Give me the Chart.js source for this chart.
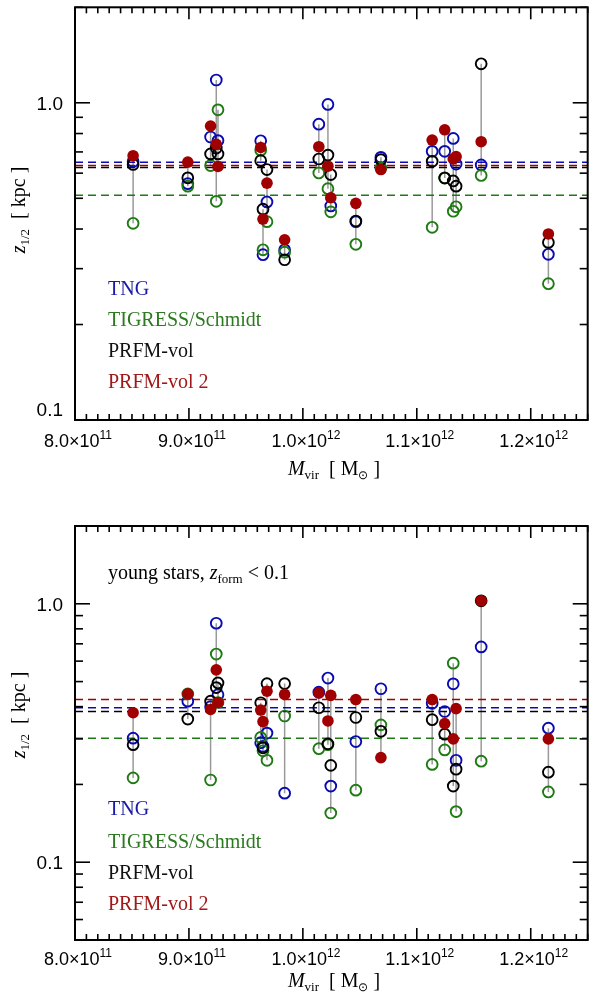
<!DOCTYPE html>
<html>
<head>
<meta charset="utf-8">
<script src="https://cdn.jsdelivr.net/npm/chart.js@4.4.1/dist/chart.umd.min.js"></script>
<style>
  body { margin: 0; background: #fff; }
  canvas { position: absolute; left: 0; }
</style>
</head>
<body>
<canvas id="allChart" width="595" height="490" style="top:0px"></canvas>
<canvas id="youngChart" width="595" height="513" style="top:490px"></canvas>
<script>
// series, in legend order
const seriesNames = ['TNG', 'TIGRESS/Schmidt', 'PRFM-vol', 'PRFM-vol 2'];
const markerColors = ['#0a0ab2', '#1e7a12', '#000000', '#a00000'];
const textColors = ['#1a1aa8', '#2a7a1e', '#111111', '#a01818'];

// halo virial masses [Msun]
const haloMass = [8.51e11, 8.99e11, 9.19e11, 9.24e11, 9.255e11, 9.63e11, 9.65e11, 9.685e11, 9.84e11, 1.014e12,
  1.022e12, 1.0245e12, 1.0465e12, 1.0685e12, 1.1135e12, 1.1245e12, 1.132e12, 1.1345e12, 1.1565e12, 1.2155e12];

// z_1/2 [kpc], all stars (top panel)
const tngAll = [0.653, 0.556, 0.78, 1.18, 0.76, 0.759, 0.332, 0.487, 0.344, 0.856,
  0.988, 0.473, 0.422, 0.673, 0.703, 0.703, 0.772, 0.641, 0.637, 0.333];
const tigressAll = [0.417, 0.546, 0.634, 0.489, 0.95, 0.709, 0.344, 0.422, 0.338, 0.601,
  0.536, 0.453, 0.358, 0.623, 0.405, 0.58, 0.455, 0.47, 0.59, 0.269];
const prfmAll = [0.639, 0.58, 0.69, 0.72, 0.69, 0.657, 0.462, 0.616, 0.32, 0.665,
  0.684, 0.594, 0.424, 0.662, 0.654, 0.579, 0.567, 0.546, 1.327, 0.363];
const prfm2All = [0.681, 0.65, 0.845, 0.74, 0.63, 0.723, 0.43, 0.558, 0.37, 0.727,
  0.631, 0.502, 0.482, 0.616, 0.763, 0.822, 0.665, 0.677, 0.754, 0.386];
const medianAll = [0.650, 0.511, 0.625, 0.634];

// z_1/2 [kpc], young stars z_form < 0.1 (bottom panel)
const tngYoung = [0.302, 0.42, 0.40, 0.841, 0.445, 0.29, 0.281, 0.316, 0.185, 0.455,
  0.516, 0.197, 0.293, 0.469, 0.412, 0.383, 0.49, 0.248, 0.681, 0.33];
const tigressYoung = [0.212, 0.448, 0.208, 0.639, 0.415, 0.304, 0.27, 0.248, 0.368, 0.275,
  0.285, 0.155, 0.19, 0.34, 0.239, 0.272, 0.589, 0.157, 0.246, 0.187];
const prfmYoung = [0.285, 0.358, 0.42, 0.474, 0.494, 0.414, 0.277, 0.491, 0.491, 0.396,
  0.287, 0.237, 0.363, 0.321, 0.356, 0.313, 0.197, 0.229, 1.027, 0.223];
const prfm2Young = [0.379, 0.448, 0.39, 0.555, 0.415, 0.388, 0.35, 0.459, 0.446, 0.452,
  0.352, 0.442, 0.426, 0.254, 0.426, 0.344, 0.30, 0.393, 1.027, 0.30];
const medianYoung = [0.396, 0.302, 0.383, 0.426];

// axis ticks
const xTickValues = [8e11, 9e11, 1e12, 1.1e12, 1.2e12];
const xTickMantissa = ['8.0', '9.0', '1.0', '1.1', '1.2'];
const xTickExponent = ['11', '11', '12', '12', '12'];
const yTickValues = [0.1, 1.0];
const yTickLabels = ['0.1', '1.0'];

const X_MIN = 8e11, X_MAX = 1.25e12;
const SERIF = '"Liberation Serif", "Times New Roman", serif';
const SANS = '"Liberation Sans", Arial, sans-serif';

function drawRich(ctx, parts, x, y, align) {
  let w = 0;
  parts.forEach(p => { ctx.font = p.font; w += ctx.measureText(p.text).width; });
  let cx = align === 'center' ? x - w / 2 : (align === 'right' ? x - w : x);
  ctx.textAlign = 'left';
  ctx.textBaseline = 'alphabetic';
  parts.forEach(p => {
    ctx.font = p.font;
    ctx.fillStyle = p.color || '#000';
    ctx.fillText(p.text, cx, y + (p.dy || 0));
    cx += ctx.measureText(p.text).width;
  });
}

// IDL-like frame: box, inward ticks on all sides, labels, titles, legend
const framePlugin = {
  id: 'idlFrame',
  afterDraw(chart, args, opts) {
    const { ctx, chartArea: a, scales: { x, y } } = chart;
    ctx.save();
    ctx.strokeStyle = '#000';
    ctx.lineWidth = 1.6;
    const seg = (x0, y0, x1, y1) => { ctx.beginPath(); ctx.moveTo(x0, y0); ctx.lineTo(x1, y1); ctx.stroke(); };

    // x ticks every 1e10
    for (let i = 80; i <= 125; i++) {
      const px = x.getPixelForValue(i * 1e10);
      const len = i % 10 === 0 ? 12 : 6;
      seg(px, a.bottom, px, a.bottom - len);
      seg(px, a.top, px, a.top + len);
    }
    // y ticks (log)
    for (let k = -2; k <= 0; k++) {
      for (let m = 1; m <= 9; m++) {
        const v = m * Math.pow(10, k);
        if (v < y.min * 0.999 || v > y.max * 1.001) continue;
        const py = y.getPixelForValue(v);
        const len = m === 1 ? 15 : 8;
        seg(a.left, py, a.left + len, py);
        seg(a.right, py, a.right - len, py);
      }
    }
    ctx.lineWidth = 2;
    ctx.strokeRect(a.left, a.top, a.right - a.left, a.bottom - a.top);

    // x tick labels
    xTickValues.forEach((v, i) => {
      drawRich(ctx, [
        { text: xTickMantissa[i] + '\u00d710', font: '18px ' + SANS },
        { text: xTickExponent[i], font: '12px ' + SANS, dy: -8 }
      ], x.getPixelForValue(v) + 3, a.bottom + opts.xLabelGap, 'center');
    });
    // y tick labels
    yTickValues.forEach((v, i) => {
      const shift = (opts.yLabelShift && opts.yLabelShift[i]) || 0;
      drawRich(ctx, [{ text: yTickLabels[i], font: '19px ' + SANS }],
        63, y.getPixelForValue(v) + 7 + shift, 'right');
    });

    // axis titles
    drawRich(ctx, [
      { text: 'M', font: 'italic 20px ' + SERIF },
      { text: 'vir', font: '13px ' + SERIF, dy: 4 },
      { text: '  [ M', font: '20px ' + SERIF },
      { text: '\u2299', font: '12px ' + SERIF, dy: 4 },
      { text: ' ]', font: '20px ' + SERIF }
    ], 334, opts.xTitleY, 'center');

    ctx.save();
    ctx.translate(25, opts.yTitleY);
    ctx.rotate(-Math.PI / 2);
    drawRich(ctx, [
      { text: 'z', font: 'italic 20px ' + SERIF },
      { text: '1/2', font: '13px ' + SERIF, dy: 4 },
      { text: '  [ kpc ]', font: '20px ' + SERIF }
    ], 0, 0, 'center');
    ctx.restore();

    // legend text
    seriesNames.forEach((name, i) => {
      drawRich(ctx, [{ text: name, font: '20px ' + SERIF, color: textColors[i] }],
        108, opts.legendY[i], 'left');
    });

    if (opts.note) {
      drawRich(ctx, [
        { text: 'young stars, ', font: '20px ' + SERIF },
        { text: 'z', font: 'italic 20px ' + SERIF },
        { text: 'form', font: '13px ' + SERIF, dy: 4 },
        { text: ' < 0.1', font: '20px ' + SERIF }
      ], 108, opts.note, 'left');
    }
    ctx.restore();
  }
};

function buildDatasets(series, medians) {
  const sets = [];
  // markers: red on top, then black, green, blue
  const openStyle = (i) => ({
    pointRadius: 5.4, pointBorderWidth: 1.9, pointBackgroundColor: 'rgba(0,0,0,0)',
    pointBorderColor: markerColors[i], borderColor: markerColors[i]
  });
  [3, 2, 1, 0].forEach((s, k) => {
    const style = s === 3
      ? { pointRadius: 5.8, pointBorderWidth: 0, pointBackgroundColor: markerColors[3], pointBorderColor: markerColors[3] }
      : openStyle(s);
    sets.push(Object.assign({
      label: seriesNames[s],
      data: haloMass.map((m, h) => ({ x: m, y: series[s][h] })),
      showLine: false,
      order: k + 1
    }, style));
  });
  // median dashed lines
  medians.forEach((v, s) => {
    sets.push({
      label: seriesNames[s] + ' median',
      data: [{ x: X_MIN, y: v }, { x: X_MAX, y: v }],
      showLine: true, pointRadius: 0, borderWidth: 1.5,
      borderColor: markerColors[s], borderDash: [8, 5],
      order: 5 + (3 - s)
    });
  });
  // grey connectors from min to max of each halo
  haloMass.forEach((m, h) => {
    const vals = series.map(arr => arr[h]);
    sets.push({
      label: 'halo ' + h,
      data: [{ x: m, y: Math.min(...vals) }, { x: m, y: Math.max(...vals) }],
      showLine: true, pointRadius: 0, borderWidth: 1.5,
      borderColor: '#9a9a9a', order: 20
    });
  });
  return sets;
}

function makeChart(id, series, medians, yMin, padding, frameOpts) {
  return new Chart(document.getElementById(id).getContext('2d'), {
    type: 'scatter',
    data: { datasets: buildDatasets(series, medians) },
    options: {
      responsive: false,
      animation: false,
      devicePixelRatio: 1,
      events: [],
      layout: { padding },
      scales: {
        x: { type: 'linear', min: X_MIN, max: X_MAX, display: false },
        y: { type: 'logarithmic', min: yMin, max: 2.0, display: false }
      },
      plugins: {
        legend: { display: false },
        tooltip: { enabled: false },
        idlFrame: frameOpts
      }
    },
    plugins: [framePlugin]
  });
}

makeChart('allChart', [tngAll, tigressAll, prfmAll, prfm2All], medianAll, 0.1,
  { left: 75, right: 1, top: 4, bottom: 70 },
  { xLabelGap: 27, xTitleY: 475, yTitleY: 210, legendY: [295, 326, 357, 388], yLabelShift: [-11, 0] });

makeChart('youngChart', [tngYoung, tigressYoung, prfmYoung, prfm2Young], medianYoung, 0.05,
  { left: 75, right: 1, top: 36, bottom: 63 },
  { xLabelGap: 25, xTitleY: 497, yTitleY: 225, legendY: [325, 358, 389, 420], note: 89 });
</script>
</body>
</html>
